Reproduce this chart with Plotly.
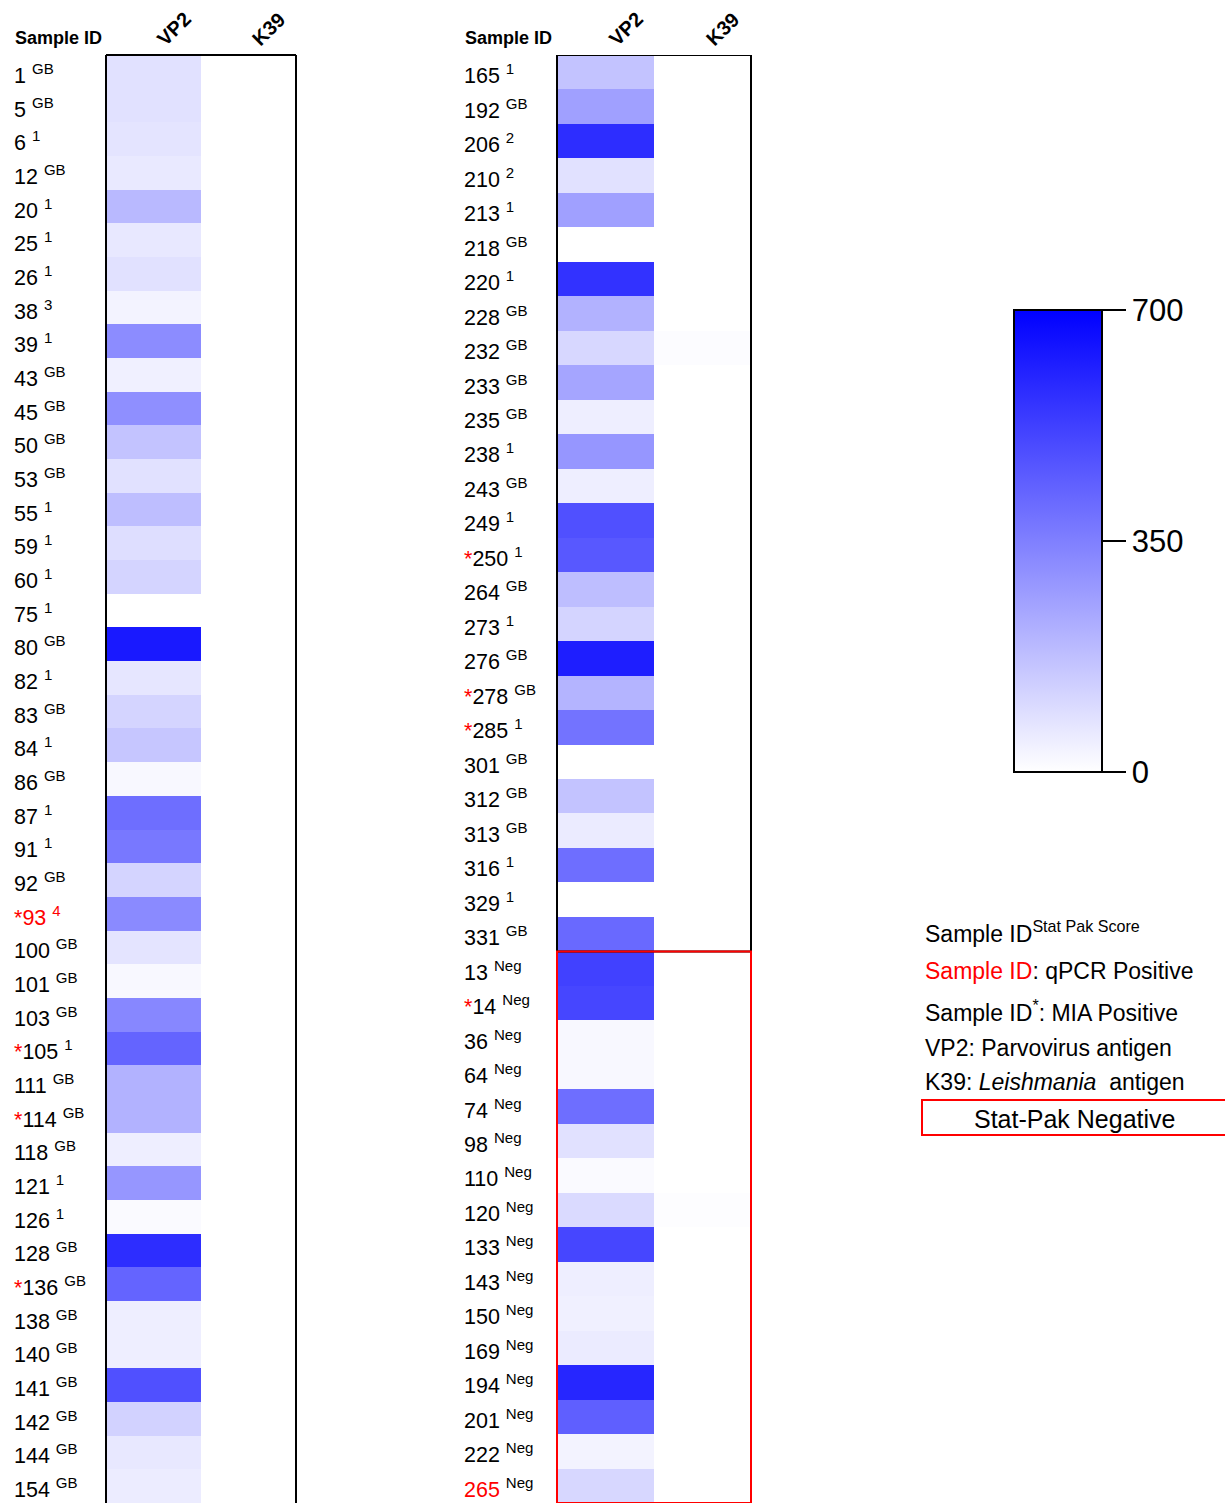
import plotly.graph_objects as go

W, H = 1225, 1503

# ---------------- data ----------------
columns = ["VP2", "K39"]

left_ids = ["1", "5", "6", "12", "20", "25", "26", "38", "39", "43", "45", "50", "53", "55", "59",
            "60", "75", "80", "82", "83", "84", "86", "87", "91", "92", "93", "100", "101", "103",
            "105", "111", "114", "118", "121", "126", "128", "136", "138", "140", "141", "142",
            "144", "154"]
left_score = ["GB", "GB", "1", "GB", "1", "1", "1", "3", "1", "GB", "GB", "GB", "GB", "1", "1",
              "1", "1", "GB", "1", "GB", "1", "GB", "1", "1", "GB", "4", "GB", "GB", "GB",
              "1", "GB", "GB", "GB", "1", "1", "GB", "GB", "GB", "GB", "GB", "GB",
              "GB", "GB"]
left_vp2 = [82, 82, 74, 60, 192, 63, 82, 33, 316, 41, 307, 165, 82, 178, 91,
            118, 0, 631, 69, 118, 156, 19, 398, 371, 118, 321, 74, 19, 329,
            425, 211, 211, 47, 288, 14, 576, 425, 47, 47, 480, 124,
            63, 52]
left_k39 = [0, 0, 0, 0, 0, 0, 0, 0, 0, 0, 0, 0, 0, 0, 0,
            0, 0, 0, 0, 0, 0, 0, 0, 0, 0, 0, 0, 0, 0,
            0, 0, 0, 0, 0, 0, 0, 0, 0, 0, 0, 0,
            0, 0]

right_ids = ["165", "192", "206", "210", "213", "218", "220", "228", "232", "233", "235", "238",
             "243", "249", "250", "264", "273", "276", "278", "285", "301", "312", "313", "316",
             "329", "331", "13", "14", "36", "64", "74", "98", "110", "120", "133", "143", "150",
             "169", "194", "201", "222", "265"]
right_score = ["1", "GB", "2", "2", "1", "GB", "1", "GB", "GB", "GB", "GB", "1",
               "GB", "1", "1", "GB", "1", "GB", "GB", "1", "GB", "GB", "GB", "1",
               "1", "GB", "Neg", "Neg", "Neg", "Neg", "Neg", "Neg", "Neg", "Neg", "Neg", "Neg", "Neg",
               "Neg", "Neg", "Neg", "Neg", "Neg"]
right_vp2 = [165, 261, 576, 82, 261, 0, 563, 211, 110, 247, 47, 288,
             47, 480, 458, 178, 118, 618, 206, 384, 0, 165, 55, 398,
             0, 412, 522, 508, 19, 19, 398, 82, 14, 102, 508, 47, 41,
             55, 596, 439, 33, 110]
right_k39 = [0, 0, 0, 0, 0, 0, 0, 0, 8, 0, 0, 0,
             0, 0, 0, 0, 0, 0, 0, 0, 0, 0, 0, 0,
             0, 0, 0, 0, 0, 0, 0, 0, 0, 6, 0, 0, 0,
             0, 0, 0, 0, 0]

mia_positive = ["93", "105", "114", "136", "250", "278", "285", "14"]
qpcr_positive = ["93", "265"]
red_score = ["93"]
statpak_negative_start = "13"   # first row of the Stat-Pak negative block

color_ticks = [0, 350, 700]

RED = "#ff0000"
FONT = "Liberation Sans, Arial, sans-serif"


def px_x(x):
    return x / W


def px_y(y):
    return 1 - y / H


def label_html(sid, score):
    star = f'<span style="color:{RED}">*</span>' if sid in mia_positive else ""
    num = f'<span style="color:{RED}">{sid}</span>' if sid in qpcr_positive else sid
    sc = f'<span style="color:{RED}">{score}</span>' if sid in red_score else score
    return f"{star}{num} <sup>{sc}</sup>"


fig = go.Figure()

fig.add_trace(go.Heatmap(
    x=columns, y=left_ids,
    z=[[a, b] for a, b in zip(left_vp2, left_k39)],
    coloraxis="coloraxis", xaxis="x", yaxis="y", hoverinfo="skip"))
fig.add_trace(go.Heatmap(
    x=columns, y=right_ids,
    z=[[a, b] for a, b in zip(right_vp2, right_k39)],
    coloraxis="coloraxis", xaxis="x2", yaxis="y2", hoverinfo="skip"))

top = px_y(55)
xaxis_common = dict(side="top", tickangle=-45, showgrid=False, zeroline=False, ticks="",
                    showline=False, type="category", ticklabelshift=5,
                    tickfont=dict(family=FONT, size=20, color="black", weight="bold"))
yaxis_common = dict(showgrid=False, zeroline=False, showticklabels=False, ticks="",
                    showline=False, type="category")

fig.update_layout(
    width=W, height=H,
    margin=dict(l=0, r=0, t=0, b=0),
    paper_bgcolor="white", plot_bgcolor="white",
    font=dict(family=FONT, color="black"),
    xaxis=dict(domain=[px_x(106), px_x(296)], anchor="y", **xaxis_common),
    yaxis=dict(domain=[0, top], anchor="x", range=[len(left_ids) - 0.5, -0.5], **yaxis_common),
    xaxis2=dict(domain=[px_x(557), px_x(751)], anchor="y2", **xaxis_common),
    yaxis2=dict(domain=[0, top], anchor="x2", range=[len(right_ids) - 0.5, -0.5], **yaxis_common),
    coloraxis=dict(
        cmin=0, cmax=700,
        colorscale=[[0, "rgb(255,255,255)"], [1, "rgb(0,0,255)"]],
        colorbar=dict(
            x=px_x(1014), xanchor="left", y=px_y(772), yanchor="bottom",
            thickness=88, thicknessmode="pixels", len=462, lenmode="pixels",
            xpad=0, ypad=0, outlinewidth=2, outlinecolor="black",
            ticks="outside", ticklen=23, tickwidth=2, tickcolor="black",
            tickvals=color_ticks, ticktext=[str(v) for v in color_ticks],
            tickfont=dict(family="Liberation Sans Narrow, Arial Narrow, sans-serif", size=31,
                          color="black"),
        ),
    ),
    showlegend=False,
)

annotations = []
# row labels (positioned on the category axes by row index)
for ids, scores, yref, x0 in [(left_ids, left_score, "y", 12), (right_ids, right_score, "y2", 462)]:
    for i, (sid, sc) in enumerate(zip(ids, scores)):
        annotations.append(dict(
            x=px_x(x0), xref="paper", xanchor="left",
            y=i, yref=yref, yanchor="middle", yshift=-2,
            text=label_html(sid, sc), showarrow=False,
            font=dict(family=FONT, size=21.5, color="black")))
# headers
for x0 in [13, 463]:
    annotations.append(dict(
        x=px_x(x0), xref="paper", xanchor="left", y=px_y(38), yref="paper", yanchor="middle",
        text="<b>Sample ID</b>", showarrow=False, font=dict(family=FONT, size=18, color="black")))

# key text
key_lines = [
    (932, "Sample ID<sup>Stat Pak Score</sup>"),
    (971, f'<span style="color:{RED}">Sample ID</span>: qPCR Positive'),
    (1011, "Sample ID<sup>*</sup>: MIA Positive"),
    (1048, "VP2: Parvovirus antigen"),
    (1082, "K39: <i>Leishmania</i>  antigen"),
]
for y0, txt in key_lines:
    annotations.append(dict(
        x=px_x(923), xref="paper", xanchor="left", y=px_y(y0), yref="paper", yanchor="middle",
        text=txt, showarrow=False, font=dict(family=FONT, size=23, color="black")))
annotations.append(dict(
    x=px_x(1075), xref="paper", xanchor="center", y=px_y(1119), yref="paper", yanchor="middle",
    text="Stat-Pak Negative", showarrow=False, font=dict(family=FONT, size=25, color="black")))
fig.update_layout(annotations=annotations)

# panel frames
split = right_ids.index(statpak_negative_start) - 0.5
shapes = []
for (x0, y0, x1, y1) in [(0, 0, 0, 1), (0, 1, 1, 1), (1, 1, 1, 0)]:
    shapes.append(dict(type="line", xref="x domain", yref="y domain", x0=x0, x1=x1, y0=y0, y1=y1,
                       line=dict(color="black", width=2)))
shapes.append(dict(type="rect", xref="x2 domain", yref="y2", x0=0, x1=1, y0=-0.5, y1=split,
                   line=dict(color="black", width=2)))
shapes.append(dict(type="rect", xref="x2 domain", yref="y2", x0=0, x1=1, y0=split,
                   y1=len(right_ids) - 0.5, line=dict(color=RED, width=2)))
shapes.append(dict(type="rect", xref="paper", yref="paper", x0=px_x(922), x1=1.05,
                   y0=px_y(1135), y1=px_y(1100), line=dict(color=RED, width=2)))
fig.update_layout(shapes=shapes)

fig.write_html("out.html")
